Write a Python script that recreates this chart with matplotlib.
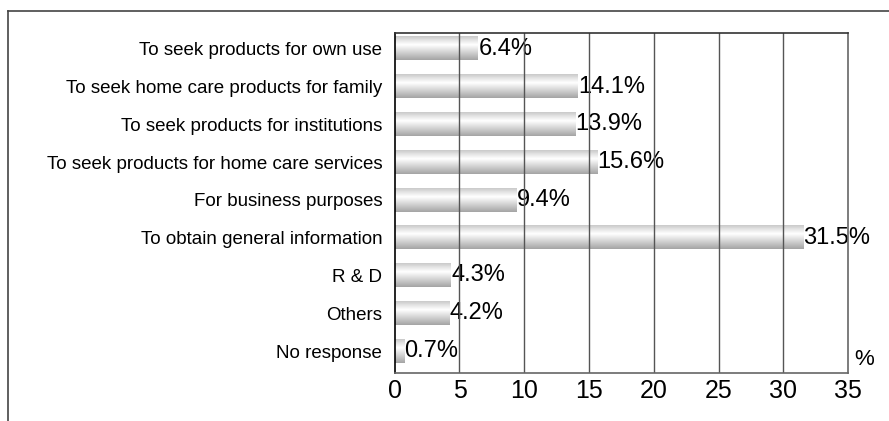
import numpy as np
import matplotlib.pyplot as plt
from matplotlib.lines import Line2D

categories = ['To seek products for own use',
              'To seek home care products for family',
              'To seek products for institutions',
              'To seek products for home care services',
              'For business purposes',
              'To obtain general information',
              'R & D',
              'Others',
              'No response']
values = [6.4, 14.1, 13.9, 15.6, 9.4, 31.5, 4.3, 4.2, 0.7]
xticks = [0, 5, 10, 15, 20, 25, 30, 35]

plt.rcParams['font.family'] = ['Liberation Sans', 'DejaVu Sans']

fig = plt.figure(figsize=(8.89, 4.21), dpi=100)
ax = fig.add_axes([0.444, 0.114, 0.51, 0.808])

# cylinder-like vertical gradient for the bars
g = np.concatenate([np.linspace(0.80, 0.99, 9), np.linspace(0.99, 0.65, 16)])
grad = g.reshape(-1, 1)

h = 0.62
for i, v in enumerate(values):
    ax.imshow(grad, cmap='gray', vmin=0, vmax=1, aspect='auto',
              extent=[0, v, i + h / 2, i - h / 2], zorder=2,
              interpolation='bilinear')
    ax.text(v + 0.05, i, f'{v}%', va='center', ha='left',
            fontsize=17, zorder=4)

ax.set_xlim(0, 35)
ax.set_ylim(8.58, -0.42)
ax.set_xticks(xticks)
ax.set_xticklabels([str(t) for t in xticks], fontsize=18)
ax.set_yticks(range(len(categories)))
ax.set_yticklabels(categories, fontsize=13.5)
ax.tick_params(axis='both', length=0)
ax.tick_params(axis='y', pad=9)
ax.tick_params(axis='x', pad=4)
for t in xticks[1:-1]:
    ax.axvline(t, color='#555555', lw=1, zorder=5)
ax.spines['left'].set_color('black')
ax.spines['top'].set_color('#333333')
ax.spines['right'].set_color('#666666')
ax.spines['bottom'].set_color('#666666')
for s in ax.spines.values():
    s.set_linewidth(1.2)
    s.set_zorder(6)

ax.text(1.013, 0.04, '%', transform=ax.transAxes, fontsize=16, va='center')

# outer frame
fig.add_artist(Line2D([0.009, 1.0], [1 - 11 / 421, 1 - 11 / 421],
                      color='#444444', lw=1.2))
fig.add_artist(Line2D([0.009, 0.009], [0, 1 - 11 / 421],
                      color='#444444', lw=1.2))

fig.savefig('out.png', dpi=100)
